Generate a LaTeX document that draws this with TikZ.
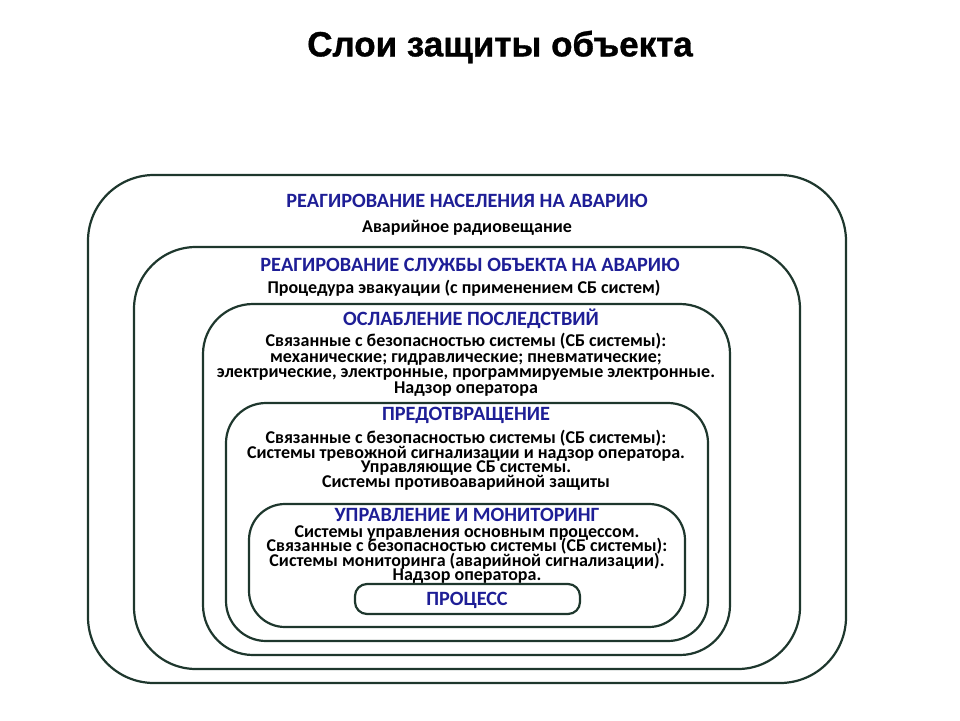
\documentclass[tikz,border=0pt]{standalone}
\usepackage{fontspec}
\setmainfont{Carlito}
\newfontfamily\titlefont{Liberation Sans}[BoldFeatures={FakeBold=1}]
\definecolor{layerline}{RGB}{30,55,45}
\definecolor{headblue}{RGB}{30,30,150}
\newcommand{\tightlines}[1]{\fontsize{18}{#1}\selectfont\bfseries\lineskiplimit=-30pt\lineskip=0pt}

\begin{document}
\begin{tikzpicture}[x=1pt,y=-1pt,
  layer/.style={draw=layerline,line width=2.2pt},
  head/.style={font=\fontsize{20.3}{20}\selectfont\bfseries,text=headblue,inner sep=0pt},
  body/.style={font=\tightlines{15.6},align=center,inner sep=0pt}]
  \useasboundingbox (0,0) rectangle (960,720);

  % Title
  \node[font=\titlefont\fontsize{35}{35}\selectfont\bfseries] (title) at (500,47) {Слои защиты объекта};

  % Layers
  \draw[layer,rounded corners=66pt] (88,175) rectangle (846,683);
  \draw[layer,rounded corners=62pt] (134,247) rectangle (800,669);
  \draw[layer,rounded corners=50pt] (203,304) rectangle (730,655);
  \draw[layer,rounded corners=40pt] (226,403) rectangle (708,641);
  \draw[layer,rounded corners=36pt] (249,504) rectangle (685,627);
  \draw[layer,rounded corners=12pt] (355,584) rectangle (580,614);

  % Population response
  \node[head] (h1) at (467,201) {РЕАГИРОВАНИЕ НАСЕЛЕНИЯ НА АВАРИЮ};
  \node[body] (b1) at (467,228) {Аварийное радиовещание};

  % Plant emergency response
  \node[head] (h2) at (470,265) {РЕАГИРОВАНИЕ СЛУЖБЫ ОБЪЕКТА НА АВАРИЮ};
  \node[body] (b2) at (464,288) {Процедура эвакуации (с применением СБ систем)};

  % Mitigation
  \node[head] (h3) at (471,319) {ОСЛАБЛЕНИЕ ПОСЛЕДСТВИЙ};
  \node[body,anchor=north] (b3) at (466,333) {Связанные с безопасностью системы (СБ системы):\\
    механические; гидравлические; пневматические;\\
    электрические, электронные, программируемые электронные.\\
    Надзор оператора};

  % Prevention
  \node[head] (h4) at (466,415) {ПРЕДОТВРАЩЕНИЕ};
  \node[body,anchor=north,font=\tightlines{14.5}] (b4) at (466,430) {Связанные с безопасностью системы (СБ системы):\\
    Системы тревожной сигнализации и надзор оператора.\\
    Управляющие СБ системы.\\
    Системы противоаварийной защиты};

  % Control and monitoring
  \node[head] (h5) at (467,515) {УПРАВЛЕНИЕ И МОНИТОРИНГ};
  \node[body,anchor=north,font=\tightlines{14.6}] (b5) at (467,525) {Системы управления основным процессом.\\
    Связанные с безопасностью системы (СБ системы):\\
    Системы мониторинга (аварийной сигнализации).\\
    Надзор оператора.};

  % Process
  \node[head] (h6) at (467,600) {ПРОЦЕСС};
\end{tikzpicture}
\end{document}
